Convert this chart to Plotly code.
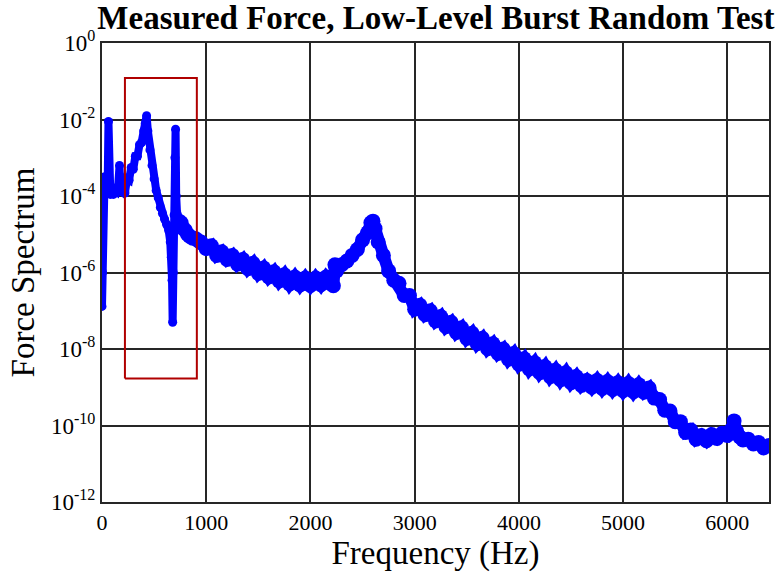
import plotly.graph_objects as go

# Low-frequency part (sharp resonances), frequency in Hz and force spectrum
low_freq_hz = [
    0, 5, 15, 25, 35, 45, 55, 62, 68, 80, 95, 110, 125, 140, 155, 168, 175, 190,
    205, 220, 240, 260, 280, 300, 320, 340, 360, 380, 400, 415, 428, 440, 460,
    480, 500, 520, 540, 560, 580, 600, 620, 640, 655, 665, 672, 678, 684, 692,
    700, 706, 712, 720, 740, 760,
]
low_force = [
    1.3e-7, 1.0e-6, 2.5e-4, 3.2e-4, 1.3e-4, 2.0e-4, 2.5e-4, 8.9e-3, 1.6e-4,
    1.1e-4, 1.6e-4, 1.1e-4, 1.4e-4, 1.3e-4, 1.8e-4, 6.3e-4, 1.4e-4, 1.3e-4,
    1.8e-4, 1.2e-4, 2.8e-4, 2.6e-4, 5.6e-4, 5.0e-4, 1.1e-3, 1.1e-3, 2.2e-3,
    2.5e-3, 5.0e-3, 7.9e-3, 1.26e-2, 5.0e-3, 1.6e-3, 6.3e-4, 2.8e-4, 1.4e-4,
    8.9e-5, 5.0e-5, 3.5e-5, 2.5e-5, 1.8e-5, 1.26e-5, 6.3e-6, 2.5e-6, 6.3e-7,
    5.0e-8, 1.0e-6, 3.2e-5, 1.0e-3, 5.6e-3, 1.0e-4, 3.5e-5, 2.2e-5, 2.0e-5,
]

# Broadband part (noisy spectrum), frequency in Hz and force spectrum
high_freq_hz = [
    740, 760, 780, 800, 820, 840, 870, 900, 930, 950,
    1000, 1050, 1100, 1150, 1200, 1250, 1300, 1350, 1400, 1450, 1500, 1550,
    1600, 1650, 1700, 1750, 1800, 1850, 1900, 1950, 2000, 2050, 2100, 2150,
    2200, 2220, 2235, 2250, 2300, 2350, 2400, 2450, 2500, 2550, 2580, 2600,
    2620, 2650, 2700, 2750, 2800, 2850, 2900, 2950, 3000, 3050, 3100, 3150,
    3200, 3250, 3300, 3350, 3400, 3450, 3500, 3550, 3600, 3650, 3700, 3750,
    3800, 3850, 3900, 3950, 4000, 4050, 4100, 4150, 4200, 4250, 4300, 4350,
    4400, 4450, 4500, 4550, 4600, 4650, 4700, 4750, 4800, 4850, 4900, 4950,
    5000, 5050, 5100, 5150, 5200, 5250, 5300, 5350, 5400, 5450, 5500, 5550,
    5600, 5650, 5700, 5750, 5800, 5850, 5900, 5950, 6000, 6040, 6065, 6090,
    6120, 6150, 6200, 6250, 6300, 6350, 6400,
]
high_force = [
    2.2e-5, 2.0e-5, 1.4e-5, 1.26e-5, 1.0e-5, 8.9e-6, 7.9e-6, 7.6e-6, 6.6e-6, 6.3e-6,
    4.2e-6, 5.0e-6, 2.8e-6, 3.5e-6, 2.2e-6, 2.8e-6, 1.66e-6, 2.2e-6,
    1.26e-6, 1.74e-6, 9.5e-7, 1.32e-6, 7.6e-7, 1.05e-6, 6.0e-7, 8.7e-7,
    5.0e-7, 7.6e-7, 4.7e-7, 7.2e-7, 4.6e-7, 7.2e-7, 4.8e-7, 7.6e-7, 5.0e-7,
    4.5e-7, 1.6e-6, 1.1e-6, 1.6e-6, 2.0e-6, 2.8e-6, 4.0e-6, 7.1e-6, 1.1e-5,
    2.0e-5, 2.2e-5, 1.4e-5, 6.3e-6, 2.8e-6, 1.1e-6, 6.3e-7, 5.2e-7, 2.5e-7,
    2.5e-7, 1.1e-7, 1.4e-7, 7.9e-8, 1.0e-7, 5.4e-8, 7.1e-8, 3.8e-8, 5.0e-8,
    2.7e-8, 3.6e-8, 1.9e-8, 2.6e-8, 1.38e-8, 1.9e-8, 1.02e-8, 1.38e-8,
    7.6e-9, 1.0e-8, 5.4e-9, 7.6e-9, 4.0e-9, 5.6e-9, 3.0e-9, 4.4e-9, 2.4e-9,
    3.5e-9, 1.9e-9, 2.8e-9, 1.58e-9, 2.4e-9, 1.32e-9, 1.9e-9, 1.12e-9,
    1.51e-9, 1.0e-9, 1.51e-9, 9.3e-10, 1.41e-9, 8.7e-10, 1.32e-9, 8.1e-10,
    1.26e-9, 7.6e-10, 1.17e-9, 7.4e-10, 9.5e-10, 5.2e-10, 4.8e-10, 2.5e-10,
    2.4e-10, 1.26e-10, 1.26e-10, 6.6e-11, 7.6e-11, 4.4e-11, 5.5e-11, 4.0e-11,
    5.8e-11, 4.6e-11, 6.3e-11, 5.5e-11, 7.9e-11, 1.32e-10, 7.1e-11, 5.0e-11,
    4.2e-11, 4.4e-11, 3.3e-11, 3.6e-11, 2.6e-11, 3.0e-11,
]

# Highlight box (red rectangle) corners
box_freq = [220, 910, 910, 220, 220]
box_force = [1.7e-9, 1.7e-9, 0.122, 0.122, 1.7e-9]

x_tickvals = [0, 1000, 2000, 3000, 4000, 5000, 6000]
x_ticktext = ["0", "1000", "2000", "3000", "4000", "5000", "6000"]
y_tickvals = [1e0, 1e-2, 1e-4, 1e-6, 1e-8, 1e-10, 1e-12]
y_ticktext = ["10<sup>0</sup>", "10<sup>-2</sup>", "10<sup>-4</sup>", "10<sup>-6</sup>",
              "10<sup>-8</sup>", "10<sup>-10</sup>", "10<sup>-12</sup>"]

SERIF = "Liberation Serif, Times New Roman, serif"
BLUE = "#0000FF"

fig = go.Figure()
fig.add_trace(go.Scatter(
    x=high_freq_hz, y=high_force, mode="lines+markers",
    line=dict(color=BLUE, width=12),
    marker=dict(color=BLUE, size=15),
    showlegend=False, hoverinfo="skip",
))
fig.add_trace(go.Scatter(
    x=low_freq_hz, y=low_force, mode="lines+markers",
    line=dict(color=BLUE, width=8),
    marker=dict(color=BLUE, size=9),
    showlegend=False, hoverinfo="skip",
))
fig.add_trace(go.Scatter(
    x=box_freq, y=box_force, mode="lines",
    line=dict(color="#B00000", width=2),
    showlegend=False, hoverinfo="skip",
))

fig.update_layout(
    width=777, height=576,
    margin=dict(l=102, r=6, t=43, b=74),
    paper_bgcolor="white", plot_bgcolor="white",
    title=dict(text="<b>Measured Force, Low-Level Burst Random Test</b>",
               font=dict(family=SERIF, size=33, color="black"),
               x=0.561, xanchor="center", y=0.969, yanchor="middle"),
    font=dict(family=SERIF, color="black"),
)
fig.update_xaxes(
    range=[0, 6400], tickvals=x_tickvals, ticktext=x_ticktext,
    tickfont=dict(size=22, family=SERIF, color="black"),
    showgrid=True, gridcolor="#262626", gridwidth=2,
    showline=True, linecolor="#262626", linewidth=2, mirror=True,
    zeroline=False, ticks="",
    title=dict(text="Frequency (Hz)", font=dict(size=33, family=SERIF, color="black"), standoff=4),
)
fig.update_yaxes(
    type="log", range=[-12, 0], tickvals=y_tickvals, ticktext=y_ticktext,
    tickfont=dict(size=23, family=SERIF, color="black"),
    showgrid=True, gridcolor="#262626", gridwidth=2,
    showline=True, linecolor="#262626", linewidth=2, mirror=True,
    zeroline=False, ticks="",
    title=dict(text="Force Spectrum", font=dict(size=33, family=SERIF, color="black"), standoff=6),
)

fig.write_html("out.html")
